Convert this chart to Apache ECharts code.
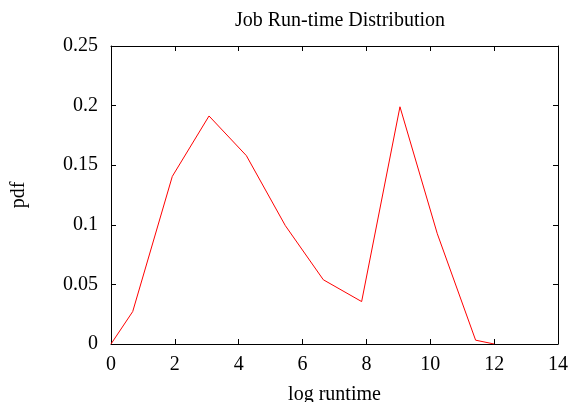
<!DOCTYPE html>
<html>
<head>
<meta charset="utf-8">
<script src="https://cdn.jsdelivr.net/npm/echarts@6/dist/echarts.min.js"></script>
<style>html,body{margin:0;padding:0;background:#fff;}#c{width:572px;height:402px;}</style>
</head>
<body>
<div id="c"></div>
<script>
var xValues = [0, 0.68, 1.92, 3.07, 4.24, 5.46, 6.65, 7.85, 9.05, 10.22, 11.42, 12.0];
var pdfValues = [0, 0.0272, 0.1406, 0.1913, 0.158, 0.0993, 0.0539, 0.0356, 0.199, 0.0925, 0.0032, 0];
var xTicks = [0, 2, 4, 6, 8, 10, 12, 14];
var yTicks = [0, 0.05, 0.1, 0.15, 0.2, 0.25];

var font = 'Liberation Serif';
var chart = echarts.init(document.getElementById('c'), null, {renderer: 'canvas'});
var axisCommon = {
  axisLine: {show: true, onZero: false, lineStyle: {color: '#000', width: 1}},
  axisTick: {show: true, inside: true, length: 5, lineStyle: {color: '#000', width: 1}},
  splitLine: {show: false}
};
chart.setOption({
  animation: false,
  backgroundColor: '#fff',
  title: {
    text: 'Job Run-time Distribution',
    left: 335, top: 6, textAlign: 'center',
    textStyle: {fontFamily: font, fontSize: 20, fontWeight: 'normal', color: '#000'}
  },
  grid: {left: 111, right: 14, top: 46, bottom: 58, containLabel: false, outerBoundsMode: 'none'},
  xAxis: [
    Object.assign({
      type: 'value', min: xTicks[0], max: xTicks[xTicks.length - 1], interval: 2,
      name: 'log runtime', nameLocation: 'middle', nameGap: 41,
      nameTextStyle: {fontFamily: font, fontSize: 20, color: '#000'},
      axisLabel: {fontFamily: font, fontSize: 20, color: '#000', margin: 11}
    }, axisCommon),
    Object.assign({
      type: 'value', position: 'top', min: xTicks[0], max: xTicks[xTicks.length - 1], interval: 2,
      axisLabel: {show: false}
    }, axisCommon)
  ],
  yAxis: [
    Object.assign({
      type: 'value', min: yTicks[0], max: yTicks[yTicks.length - 1], interval: 0.05,
      name: 'pdf', nameLocation: 'middle', nameGap: 82, nameRotate: 90,
      nameTextStyle: {fontFamily: font, fontSize: 20, color: '#000'},
      axisLabel: {fontFamily: font, fontSize: 20, color: '#000', margin: 13,
        formatter: function (v) { return String(Math.round(v * 100) / 100); }}
    }, axisCommon),
    Object.assign({
      type: 'value', position: 'right', min: yTicks[0], max: yTicks[yTicks.length - 1], interval: 0.05,
      axisLabel: {show: false}
    }, axisCommon)
  ],
  series: [{
    type: 'line',
    data: xValues.map(function (x, i) { return [x, pdfValues[i]]; }),
    showSymbol: false,
    symbol: 'none',
    lineStyle: {color: '#ff0000', width: 1},
    itemStyle: {color: '#ff0000'}
  }]
});
</script>
</body>
</html>
